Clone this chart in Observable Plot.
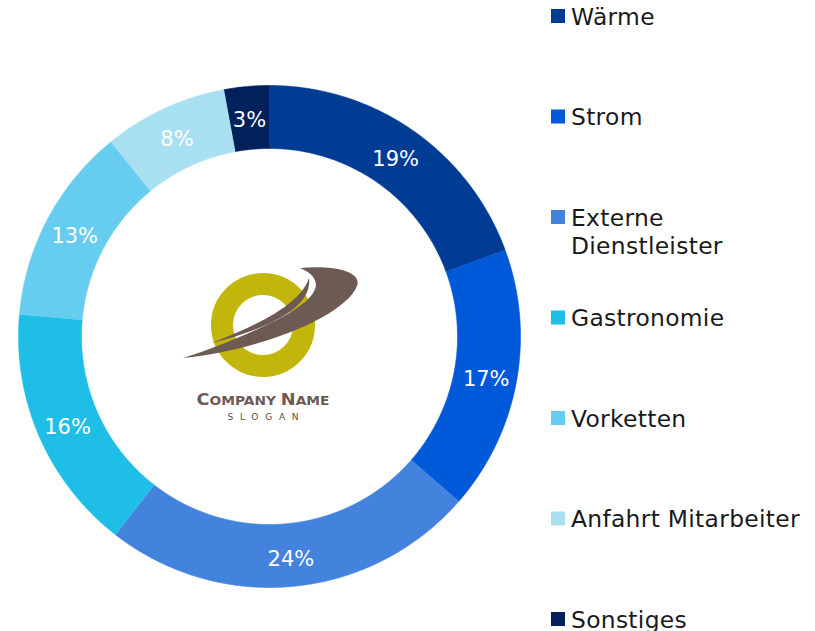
<!DOCTYPE html>
<html>
<head>
<meta charset="utf-8">
<script src="https://cdn.jsdelivr.net/npm/d3@7"></script>
<script src="https://cdn.jsdelivr.net/npm/@observablehq/plot@0.6"></script>
<style>
  html, body { margin: 0; padding: 0; background: #fff; }
  #wrap { position: relative; width: 815px; height: 631px; overflow: hidden; font-family: "DejaVu Sans", Verdana, sans-serif; }
  #wrap > svg { position: absolute; left: 0; top: 0; }
</style>
</head>
<body>
<div id="wrap"></div>
<script>
// ---- data ----
const categories = ["Wärme", "Strom", "Externe Dienstleister", "Gastronomie", "Vorketten", "Anfahrt Mitarbeiter", "Sonstiges"];
const shares = [19.4, 17.0, 24.1, 15.9, 12.7, 8.0, 2.9];
const pctLabels = ["19%", "17%", "24%", "16%", "13%", "8%", "3%"];
const legendLines = [["Wärme"], ["Strom"], ["Externe", "Dienstleister"], ["Gastronomie"], ["Vorketten"], ["Anfahrt Mitarbeiter"], ["Sonstiges"]];
const colors = ["#003C94", "#0059D9", "#4382DD", "#1FBEE6", "#66CDF0", "#A9E0F1", "#00215A"];

// ---- layout ----
const W = 815, H = 631, CX = 269, CY = 336, R = 251, R0 = 188;
const k = R0 / R;
const labelR = 0.878;

const total = d3.sum(shares);
const pts = [];
const lbls = [];
let cum = 0;
categories.forEach((cat, i) => {
  const a0 = cum / total * 2 * Math.PI;
  cum += shares[i];
  const a1 = cum / total * 2 * Math.PI;
  const n = Math.max(2, Math.ceil((a1 - a0) / (Math.PI / 360)));
  for (let j = 0; j <= n; j++) {
    const a = a0 + (a1 - a0) * j / n;
    pts.push({cat, x: Math.sin(a), y: Math.cos(a)});
  }
  for (let j = n; j >= 0; j--) {
    const a = a0 + (a1 - a0) * j / n;
    pts.push({cat, x: k * Math.sin(a), y: k * Math.cos(a)});
  }
  const am = (a0 + a1) / 2;
  lbls.push({cat, text: pctLabels[i], x: labelR * Math.sin(am), y: labelR * Math.cos(am)});
});

const chart = Plot.plot({
  width: W, height: H,
  margin: 0,
  style: {fontFamily: "DejaVu Sans, Verdana, sans-serif", background: "transparent"},
  x: {domain: [-CX / R, (W - CX) / R], axis: null},
  y: {domain: [-(H - CY) / R, CY / R], axis: null},
  color: {domain: categories, range: colors},
  marks: [
    Plot.line(pts, {x: "x", y: "y", z: "cat", fill: "cat", stroke: "cat", strokeWidth: 0.6, curve: "linear"}),
    Plot.text(lbls, {x: "x", y: "y", text: "text", fill: "white", fontSize: 21, dy: 3})
  ]
});
document.getElementById("wrap").appendChild(chart);

// ---- overlay: legend + centre logo ----
const ov = d3.select("#wrap").append("svg")
  .attr("width", W).attr("height", H)
  .style("font-family", "DejaVu Sans, Verdana, sans-serif");

// legend
const step = 100.5;
const lg = ov.append("g");
categories.forEach((cat, i) => {
  const top = 9 + i * step;
  lg.append("rect").attr("x", 551).attr("y", top).attr("width", 14).attr("height", 14).attr("fill", colors[i]);
  legendLines[i].forEach((line, j) => {
    lg.append("text").attr("x", 571).attr("y", top + 15.5 + j * 28)
      .attr("font-size", 23.4).attr("letter-spacing", 0.3).attr("fill", "#1a1a1a").text(line);
  });
});

// logo
const logo = ov.append("g");
logo.append("circle").attr("cx", 263).attr("cy", 325).attr("r", 41).attr("fill", "none")
  .attr("stroke", "#C3B60B").attr("stroke-width", 22);
logo.append("path").attr("fill", "#6D5A53")
  .attr("d", "M183,358 C262,350 345,316 357,286 C362,272 336,265 300,268 C330,281 318,302 260,328 C232,341 206,351 183,358 Z");
logo.append("path").attr("fill", "#6D5A53")
  .attr("d", "M212,343 C262,330 313,310 309,278 C301,302 266,322 212,343 Z");
const cn = logo.append("text").attr("x", 263).attr("y", 405).attr("text-anchor", "middle")
  .attr("font-family", "DejaVu Sans, sans-serif").attr("font-weight", "bold").attr("fill", "#6D5A53")
  .attr("textLength", 133).attr("lengthAdjust", "spacingAndGlyphs");
cn.append("tspan").attr("font-size", 16).text("C");
cn.append("tspan").attr("font-size", 12.5).text("OMPANY ");
cn.append("tspan").attr("font-size", 16).text("N");
cn.append("tspan").attr("font-size", 12.5).text("AME");
logo.append("text").attr("x", 263).attr("y", 419.5).attr("text-anchor", "middle")
  .attr("font-size", 9).attr("fill", "#5a4c46")
  .attr("textLength", 71).attr("lengthAdjust", "spacing").text("SLOGAN");
</script>
</body>
</html>
